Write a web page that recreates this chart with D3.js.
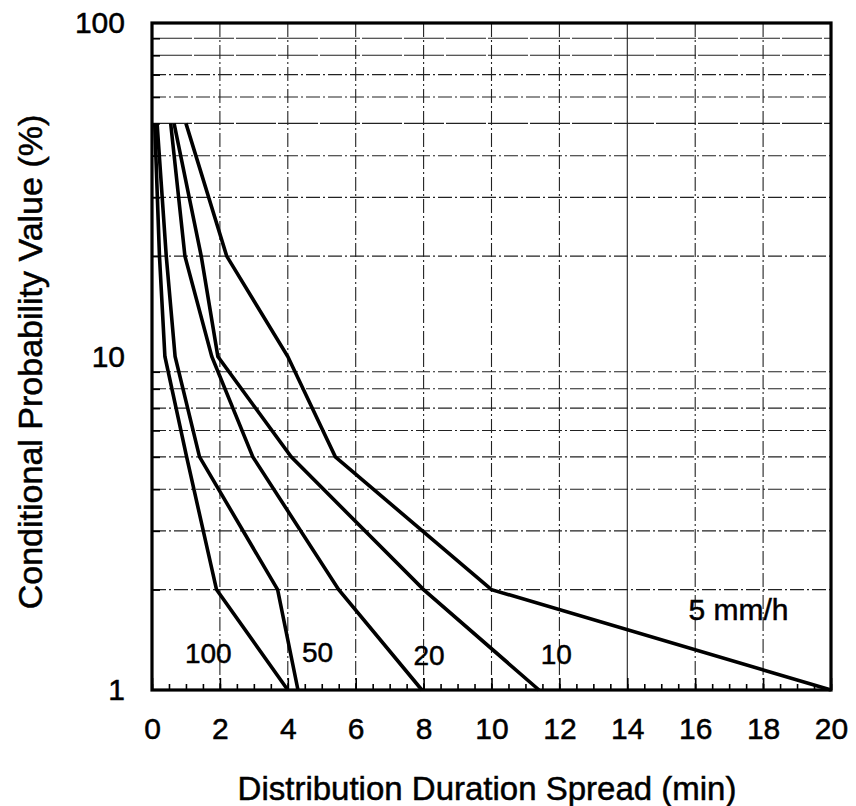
<!DOCTYPE html>
<html>
<head>
<meta charset="utf-8">
<script src="https://cdn.jsdelivr.net/npm/d3@7/dist/d3.min.js"></script>
<style>
  body { margin: 0; background: #fff; }
  svg text { font-family: "Liberation Sans", Arial, Helvetica, sans-serif; fill: #000; stroke: #000; stroke-width: 0.5px; }
  .axis path { display: none; }
  .axis line { stroke: #000; stroke-width: 1.6; }
</style>
</head>
<body>
<div id="chart"></div>
<script>
// probability levels where each curve bends (%)
var probLevels = [50, 20, 10, 5, 2, 1];

// distribution duration spread (min) read at each probability level
var spread5   = [1.0, 2.2, 4.0, 5.4, 10.0, 20.0];
var spread10  = [0.65, 1.45, 1.94, 4.1, 8.0, 11.4];
var spread20  = [0.55, 0.97, 1.76, 2.97, 5.5, 7.95];
var spread50  = [0.15, 0.42, 0.68, 1.4, 3.7, 4.3];
var spread100 = [0.08, 0.22, 0.38, 1.02, 1.9, 4.0];

var seriesNames = ["5 mm/h", "10", "20", "50", "100"];
var seriesSpread = [spread5, spread10, spread20, spread50, spread100];

// where each curve label sits, in data units
var labelSpread = [15.8, 11.45, 7.7, 4.42, 0.97];
var labelProb   = [1.62, 1.2, 1.19, 1.21, 1.205];

var xTickLabels = [0, 2, 4, 6, 8, 10, 12, 14, 16, 18, 20];
var yTickLabels = [1, 10, 100];

var svgWidth = 856;
var svgHeight = 806;

var margin = { top: 23, right: 25, bottom: 116, left: 152 };
var chartWidth = svgWidth - margin.left - margin.right;
var chartHeight = svgHeight - margin.top - margin.bottom;

var svg = d3.select("#chart")
    .append("svg")
    .attr("width", svgWidth)
    .attr("height", svgHeight);

var chartGroup = svg.append("g")
    .attr("transform", `translate(${margin.left},${margin.top})`);

var xScale = d3.scaleLinear().domain([0, 20]).range([0, chartWidth]);
var yScale = d3.scaleLog().domain([1, 100]).range([chartHeight, 0]);

// minor values for grid and ticks
var xMinor = d3.range(0, 20.01, 0.5);
var xGrid = d3.range(2, 19, 2);
var yMinor = [];
[1, 10].forEach(function(dec) {
    for (var k = 2; k <= 9; k++) yMinor.push(dec * k);
});

// grid lines
chartGroup.append("g").selectAll("line.vgrid")
    .data(xGrid)
    .enter().append("line")
    .attr("x1", d => xScale(d)).attr("x2", d => xScale(d))
    .attr("y1", 0).attr("y2", chartHeight)
    .attr("stroke", "#222")
    .attr("stroke-width", 1.1)
    .attr("stroke-dasharray", d => d == 14 ? null : "14,3,2,3");

chartGroup.append("g").selectAll("line.hgrid")
    .data(yMinor)
    .enter().append("line")
    .attr("x1", 0).attr("x2", chartWidth)
    .attr("y1", d => yScale(d)).attr("y2", d => yScale(d))
    .attr("stroke", "#222")
    .attr("stroke-width", 1.1)
    .attr("stroke-dasharray", d => (d == 50 || d == 90 || d == 80) ? "40,2" : "14,3,2,3");

// minor ticks on x (inside)
chartGroup.append("g")
    .classed("axis", true)
    .attr("transform", `translate(0, ${chartHeight})`)
    .call(d3.axisBottom(xScale).tickValues(xMinor).tickSize(-6).tickFormat(""));

// major ticks and labels on x
chartGroup.append("g")
    .classed("axis", true)
    .attr("transform", `translate(0, ${chartHeight})`)
    .call(d3.axisBottom(xScale).tickValues(xTickLabels).tickSize(-12).tickPadding(28))
    .selectAll("text")
    .style("font-size", "30px");

// minor ticks on y (inside)
chartGroup.append("g")
    .classed("axis", true)
    .call(d3.axisLeft(yScale).tickValues(yMinor).tickSize(-8).tickFormat(""));

chartGroup.append("g")
    .classed("axis", true)
    .call(d3.axisLeft(yScale).tickValues(yTickLabels).tickSize(0).tickPadding(27).tickFormat(d3.format("d")))
    .selectAll("text")
    .style("font-size", "30px");

// curves
var line = d3.line()
    .x(d => xScale(d[0]))
    .y(d => yScale(d[1]));

chartGroup.selectAll("path.curve")
    .data(seriesSpread)
    .enter().append("path")
    .attr("class", "curve")
    .attr("d", s => line(s.map((v, i) => [v, probLevels[i]])))
    .attr("fill", "none")
    .attr("stroke", "#000")
    .attr("stroke-width", 3.6)
    .attr("stroke-linejoin", "miter");

// curve labels
chartGroup.selectAll("text.clabel")
    .data(seriesNames)
    .enter().append("text")
    .attr("x", (d, i) => xScale(labelSpread[i]))
    .attr("y", (d, i) => yScale(labelProb[i]))
    .style("font-size", (d, i) => i == 0 ? "30px" : "28px")
    .text(d => d);

// frame
chartGroup.append("rect")
    .attr("x", 0).attr("y", 0)
    .attr("width", chartWidth).attr("height", chartHeight)
    .attr("fill", "none")
    .attr("stroke", "#000")
    .attr("stroke-width", 3.2);

// axis titles
chartGroup.append("text")
    .attr("x", 335)
    .attr("y", chartHeight + 110)
    .attr("text-anchor", "middle")
    .style("font-size", "33px")
    .text("Distribution Duration Spread (min)");

svg.append("text")
    .attr("transform", "translate(42, 362) rotate(-90)")
    .attr("text-anchor", "middle")
    .style("font-size", "34px")
    .text("Conditional Probability Value (%)");
</script>
</body>
</html>
